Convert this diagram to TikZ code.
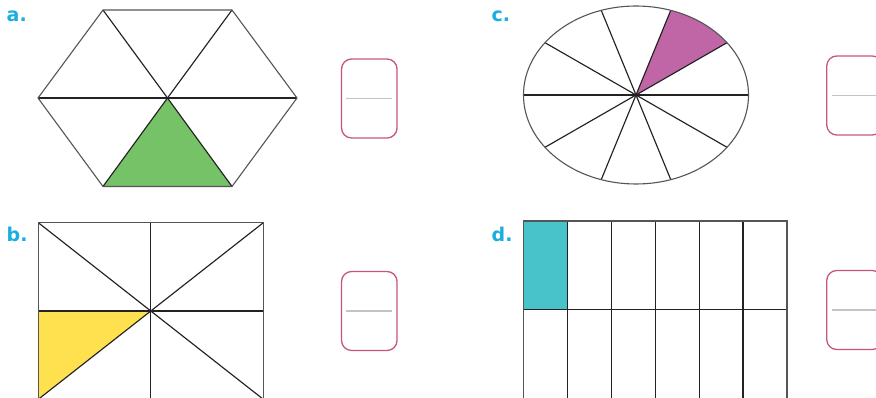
\documentclass[tikz,border=0pt]{standalone}
\usepackage{fontspec}
\setmainfont{DejaVu Sans}
\definecolor{lblc}{HTML}{1AAEE0}
\definecolor{boxc}{HTML}{C9557F}
\definecolor{lnc}{HTML}{C4C4C4}
\definecolor{grnc}{HTML}{76C267}
\definecolor{ylwc}{HTML}{FFE150}
\definecolor{prpc}{HTML}{C066A6}
\definecolor{cellc}{HTML}{48C3C9}
\definecolor{inkc}{HTML}{222222}
\definecolor{outc}{HTML}{555555}
\begin{document}
\begin{tikzpicture}[x=1pt,y=-1pt,
  lbl/.style={text=lblc,font=\fontsize{19}{22}\selectfont\bfseries,inner sep=0pt,anchor=base west},
  abox/.style={draw=boxc,line width=1.3pt,rounded corners=10pt,minimum width=55.5pt,minimum height=79pt,inner sep=0pt},
  fracline/.style={draw=lnc,line width=1.8pt},
  inner/.style={draw=inkc,line width=1.15pt},
  outer/.style={draw=outc,line width=1.1pt}]
\clip (0,0) rectangle (876,398);
\fill[white] (0,0) rectangle (876,398);

% labels
\node[lbl] (la) at (6.5,21.5) {a.};
\node[lbl] (lb) at (6.5,241.5) {b.};
\node[lbl] (lc) at (491.5,21.5) {c.};
\node[lbl] (ld) at (491.5,241.5) {d.};

% answer boxes
\node[abox] (ba) at (369.3,98.5) {};
\node[abox] (bb) at (369.3,311) {};
\node[abox] (bc) at (854.5,95.5) {};
\node[abox] (bd) at (854.5,310) {};
\foreach \b in {ba,bb,bc,bd}
  \draw[fracline] ([xshift=5.5pt]\b.west) -- ([xshift=-5.5pt]\b.east);

% a. hexagon
\coordinate (hc) at (167.5,98);
\coordinate (h0) at (297,98);
\coordinate (h1) at (232,10);
\coordinate (h2) at (103,10);
\coordinate (h3) at (38,98);
\coordinate (h4) at (103,186.5);
\coordinate (h5) at (232,186.5);
\fill[grnc] (hc) -- (h4) -- (h5) -- cycle;
\foreach \v in {h0,h1,h2,h3,h4,h5} \draw[inner] (hc) -- (\v);
\draw[outer] (h0) -- (h1) -- (h2) -- (h3) -- (h4) -- (h5) -- cycle;

% b. rectangle
\coordinate (r1) at (38.3,222.7);
\coordinate (r2) at (263.3,222.7);
\coordinate (r3) at (263.3,399.3);
\coordinate (r4) at (38.3,399.3);
\coordinate (rc) at (150.8,311);
\fill[ylwc] (38.3,311) -- (rc) -- (r4) -- cycle;
\draw[inner] (r1) -- (r3);
\draw[inner] (r2) -- (r4);
\draw[inner] (38.3,311) -- (263.3,311);
\draw[inner] (150.8,222.7) -- (150.8,399.3);
\draw[outer] (r1) rectangle (r3);

% c. ellipse
\coordinate (O) at (636,95);
\fill[prpc] (O) -- plot[domain=36:72,samples=30] ({636+112.5*cos(\x)},{95-89*sin(\x)}) -- cycle;
\foreach \a in {0,36,...,324}
  \draw[inner] (O) -- ({636+112.5*cos(\a)},{95-89*sin(\a)});
\draw[outer] (O) ellipse [x radius=112.5pt, y radius=89pt];
\fill[inkc] (O) circle (1.7pt);

% d. grid
\fill[cellc] (523.3,221) rectangle (567.25,309.7);
\foreach \i in {1,...,5}
  \draw[inner] ({523.3+43.95*\i},221) -- ({523.3+43.95*\i},398.4);
\draw[inner] (523.3,309.7) -- (787,309.7);
\draw[outer] (523.3,221) rectangle (787,398.4);
\end{tikzpicture}
\end{document}
